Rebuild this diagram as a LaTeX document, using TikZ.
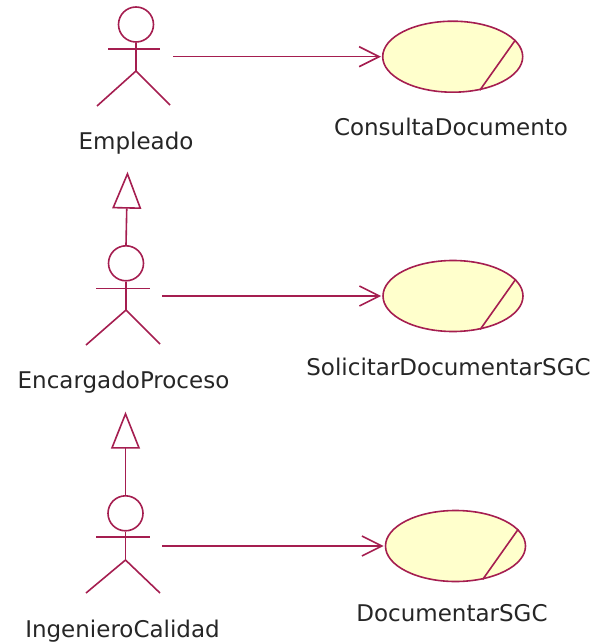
\documentclass[tikz,border=0pt]{standalone}
\usepackage{fontspec}
\setmainfont{DejaVu Sans}
\usetikzlibrary{arrows.meta,shapes.geometric}
\definecolor{umlline}{RGB}{165,30,80}
\definecolor{ucfill}{RGB}{255,255,204}
\tikzset{
 actorline/.style={draw=umlline, line width=1.6pt},
 usecase/.style={ellipse, draw=umlline, fill=ucfill, line width=1.6pt, minimum width=140pt, minimum height=71pt, inner sep=0pt},
 lbl/.style={font=\fontsize{23}{26}\selectfont, text=black!85, anchor=base, inner sep=0pt},
 assoc/.style={draw=umlline, line width=1.6pt, shorten >=1pt, -{Straight Barb[length=20pt,width=20pt,line width=1.6pt]}},
 gen/.style={draw=umlline, line width=1.6pt, -{Triangle[open,length=37pt,width=29pt,line width=1.6pt,fill=white]}},
 head/.style={circle, draw=umlline, line width=1.6pt, minimum size=35pt, inner sep=0pt},
}
\begin{document}
\begin{tikzpicture}[x=1pt,y=-1pt]
\useasboundingbox (0,0) rectangle (598,644);
% actor 1
\node[head] (h1) at (136,24.5) {};
\draw[actorline] (h1.south) -- (136,71) coordinate (b1);
\draw[actorline] (108,49) -- (160,49);
\draw[actorline] (97,106) -- (b1) -- (170,105);
\node[lbl] (l1) at (136,150) {Empleado};
% actor 2
\node[head] (h2) at (126,263.3) {};
\draw[actorline] (h2.south) -- (126,310) coordinate (b2);
\draw[actorline] (96,288.3) -- (150,288.3);
\draw[actorline] (86,345) -- (b2) -- (160,344);
\node[lbl] (l2) at (123.5,388.3) {EncargadoProceso};
% actor 3
\node[head] (h3) at (125.5,513.3) {};
\draw[actorline] (h3.south) -- (125.5,560) coordinate (b3);
\draw[actorline] (96,537) -- (150,537);
\draw[actorline] (86,593) -- (b3) -- (160,593);
\node[lbl] (l3) at (122.5,637.3) {IngenieroCalidad};
% use cases
\node[usecase] (u1) at (452.7,56.7) {};
\draw[actorline] (u1.15) -- (u1.-51);
\node[lbl] (t1) at (451,136) {ConsultaDocumento};
\node[usecase] (u2) at (453,296) {};
\draw[actorline] (u2.15) -- (u2.-51);
\node[lbl] (t2) at (448.5,375) {SolicitarDocumentarSGC};
\node[usecase] (u3) at (455.5,546) {};
\draw[actorline] (u3.15) -- (u3.-51);
\node[lbl] (t3) at (452,621) {DocumentarSGC};
% associations
\coordinate (a1) at (173,56.7);
\coordinate (a2) at (162,296);
\coordinate (a3) at (162,546);
\draw[assoc] (a1) -- (u1.west);
\draw[assoc] (a2) -- (u2.west);
\draw[assoc] (a3) -- (u3.west);
% generalizations
\coordinate (g1) at (127.5,171.7);
\coordinate (g2) at (125.5,411.7);
\draw[gen] (h2.north) -- (g1);
\draw[gen] (h3.north) -- (g2);
\end{tikzpicture}
\end{document}
